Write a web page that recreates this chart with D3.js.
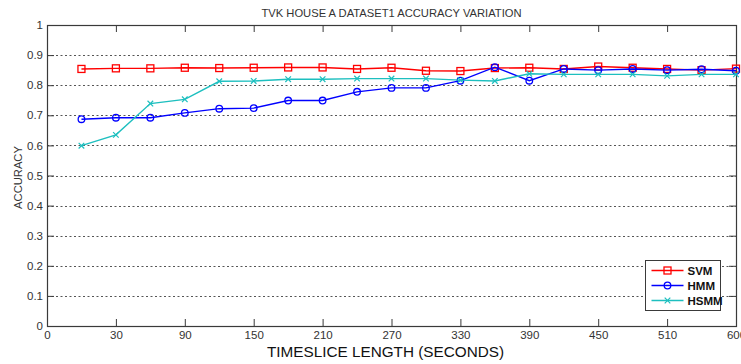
<!DOCTYPE html>
<html>
<head>
<meta charset="utf-8">
<script src="https://cdn.jsdelivr.net/npm/d3@7"></script>
<style>
  html, body { margin: 0; padding: 0; background: #fff; }
  svg { display: block; font-family: "Liberation Sans", Arial, sans-serif; }
</style>
</head>
<body>
<svg id="chart" width="741" height="364"></svg>
<script>
// Time slice lengths (seconds) at which accuracy was measured
const timeslices = [30, 60, 90, 120, 150, 180, 210, 240, 270, 300,
                    330, 360, 390, 420, 450, 480, 510, 540, 570, 600];

// Accuracy per model
const svm  = [0.854, 0.856, 0.856, 0.858, 0.857, 0.858, 0.859, 0.859, 0.854, 0.858,
              0.848, 0.847, 0.857, 0.858, 0.854, 0.862, 0.858, 0.854, 0.850, 0.855];
const hmm  = [0.687, 0.692, 0.692, 0.708, 0.722, 0.724, 0.749, 0.749, 0.778, 0.791,
              0.791, 0.815, 0.860, 0.815, 0.854, 0.850, 0.854, 0.850, 0.853, 0.848];
const hsmm = [0.599, 0.635, 0.739, 0.753, 0.813, 0.814, 0.820, 0.820, 0.822, 0.822,
              0.822, 0.817, 0.814, 0.838, 0.836, 0.836, 0.836, 0.831, 0.836, 0.836];

// X axis tick positions and the labels printed under them
const xTickValues = [0, 60, 120, 180, 240, 300, 360, 420, 480, 540, 600];
const xTickLabels = ["0", "30", "90", "150", "210", "270", "330", "390", "450", "510", "600"];
const yTickValues = [0, 0.1, 0.2, 0.3, 0.4, 0.5, 0.6, 0.7, 0.8, 0.9, 1];
const yTickLabels = ["0", "0.1", "0.2", "0.3", "0.4", "0.5", "0.6", "0.7", "0.8", "0.9", "1"];
const gridValues = [0.1, 0.2, 0.3, 0.4, 0.5, 0.6, 0.7, 0.8, 0.9];

const seriesNames = ["SVM", "HMM", "HSMM"];
const seriesColors = ["#ff0000", "#0000ff", "#1dbfbf"];
const seriesMarkers = ["square", "circle", "cross"];

const titleText = "TVK HOUSE A DATASET1 ACCURACY VARIATION";
const xLabelText = "TIMESLICE LENGTH (SECONDS)";
const yLabelText = "ACCURACY";

const svg = d3.select("#chart");
const W = 741, H = 364;
const m = { top: 25, right: 5, bottom: 38, left: 47 };
const iw = W - m.left - m.right;
const ih = H - m.top - m.bottom;

const x = d3.scaleLinear().domain([0, 600]).range([0, iw]);
const y = d3.scaleLinear().domain([0, 1]).range([ih, 0]);

const g = svg.append("g").attr("transform", `translate(${m.left},${m.top})`);
const axisColor = "#3a3a3a";

// Dotted horizontal grid
g.append("g").selectAll("line").data(gridValues).join("line")
  .attr("x1", 0).attr("x2", iw)
  .attr("y1", d => Math.round(y(d)) + 0.5).attr("y2", d => Math.round(y(d)) + 0.5)
  .attr("stroke", "#555").attr("stroke-width", 1)
  .attr("stroke-dasharray", "2,2.5");

function styleAxis(sel) {
  sel.select(".domain").remove();
  sel.selectAll(".tick line").attr("stroke", axisColor);
  sel.selectAll(".tick text").attr("fill", "#333").attr("font-size", 11.5)
     .attr("font-family", "'Liberation Sans', Arial, sans-serif");
}

// Bottom axis (ticks point inward)
const xAxis = d3.axisBottom(x).tickValues(xTickValues)
  .tickFormat((d, i) => xTickLabels[i]).tickSizeInner(-7).tickSizeOuter(0).tickPadding(5);
g.append("g").attr("transform", `translate(0,${ih})`).call(xAxis).call(styleAxis);

// Top axis mirrors ticks, no labels
const xAxisTop = d3.axisTop(x).tickValues(xTickValues)
  .tickFormat("").tickSizeInner(-7).tickSizeOuter(0);
g.append("g").call(xAxisTop).call(styleAxis);

// Left axis
const yAxis = d3.axisLeft(y).tickValues(yTickValues)
  .tickFormat((d, i) => yTickLabels[i]).tickSizeInner(-7).tickSizeOuter(0).tickPadding(4);
g.append("g").call(yAxis).call(styleAxis);

// Right axis mirrors ticks
const yAxisRight = d3.axisRight(y).tickValues(yTickValues)
  .tickFormat("").tickSizeInner(-7).tickSizeOuter(0);
g.append("g").attr("transform", `translate(${iw},0)`).call(yAxisRight).call(styleAxis);

// Plot frame
g.append("rect").attr("x", 0.5).attr("y", 0.5).attr("width", iw).attr("height", ih)
  .attr("fill", "none").attr("stroke", axisColor).attr("stroke-width", 1.2);

// Marker drawing helper
function drawMarker(sel, kind, color, cx, cy) {
  if (kind === "square") {
    sel.append("rect").attr("x", cx - 3.5).attr("y", cy - 3.5).attr("width", 7).attr("height", 7)
      .attr("fill", "none").attr("stroke", color).attr("stroke-width", 1.3);
  } else if (kind === "circle") {
    sel.append("circle").attr("cx", cx).attr("cy", cy).attr("r", 3.3)
      .attr("fill", "none").attr("stroke", color).attr("stroke-width", 1.3);
  } else {
    const s = 2.8;
    sel.append("path")
      .attr("d", `M${cx - s},${cy - s}L${cx + s},${cy + s}M${cx - s},${cy + s}L${cx + s},${cy - s}`)
      .attr("stroke", color).attr("stroke-width", 1.2).attr("fill", "none");
  }
}

const allSeries = [svm, hmm, hsmm];
const line = d3.line().x((d, i) => x(timeslices[i])).y(d => y(d));

// Series drawn in legend order; later series sit on top
allSeries.forEach((vals, k) => {
  const color = seriesColors[k];
  const sg = g.append("g");
  sg.append("path").datum(vals).attr("d", line)
    .attr("fill", "none").attr("stroke", color).attr("stroke-width", 1.4);
  vals.forEach((v, i) => drawMarker(sg, seriesMarkers[k], color, x(timeslices[i]), y(v)));
});

// Title
svg.append("text").attr("x", m.left + iw / 2).attr("y", 17).attr("text-anchor", "middle")
  .attr("font-size", 11.2).attr("fill", "#333").text(titleText);

// X label
svg.append("text").attr("x", m.left + iw / 2 - 6).attr("y", 357).attr("text-anchor", "middle")
  .attr("font-size", 15.3).attr("fill", "#111").text(xLabelText);

// Y label
svg.append("text").attr("transform", `translate(22,${m.top + ih / 2 + 2}) rotate(-90)`)
  .attr("text-anchor", "middle").attr("font-size", 11.2).attr("fill", "#333").text(yLabelText);

// Legend
const lg = svg.append("g").attr("transform", "translate(645.5,260.5)");
lg.append("rect").attr("width", 75).attr("height", 50)
  .attr("fill", "#fff").attr("stroke", axisColor).attr("stroke-width", 1);
seriesNames.forEach((name, k) => {
  const ly = 10 + k * 15;
  lg.append("line").attr("x1", 6).attr("x2", 38).attr("y1", ly).attr("y2", ly)
    .attr("stroke", seriesColors[k]).attr("stroke-width", 1.4);
  drawMarker(lg, seriesMarkers[k], seriesColors[k], 22, ly);
  lg.append("text").attr("x", 42).attr("y", ly + 4)
    .attr("font-size", 11.5).attr("font-weight", "bold").attr("fill", "#111").text(name);
});
</script>
</body>
</html>
